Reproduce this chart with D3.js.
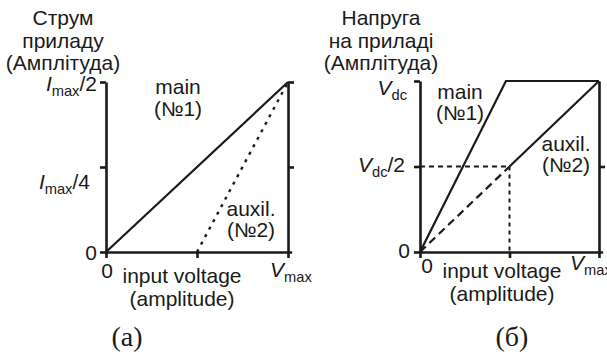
<!DOCTYPE html>
<html>
<head>
<meta charset="utf-8">
<script src="https://cdn.jsdelivr.net/npm/d3@7"></script>
<style>
  html, body { margin: 0; padding: 0; background: #fff; }
  svg { display: block; }
  text { font-family: Arial, "Liberation Sans", sans-serif; fill: #1a1a1a; }
</style>
</head>
<body>
<svg id="chart" width="607" height="358"></svg>
<script>
// Panel (a): current through the device vs input voltage (fractions of V_max, I_max)
const currentMain  = [[0, 0], [1, 0.5]];
const currentAuxil = [[0.5, 0], [1, 0.5]];
const currentTicks = [0, 0.25, 0.5];
const currentTickLabels = [["0", "", ""], ["I", "max", "/4"], ["I", "max", "/2"]];

// Panel (б): voltage across the device vs input voltage (fractions of V_max, V_dc)
const voltageMain       = [[0, 0], [0.48, 1], [1, 1]];
const voltageAuxilLow   = [[0, 0], [0.5, 0.5]];
const voltageAuxilHigh  = [[0.5, 0.5], [1, 1]];
const voltageGuideH     = [[0, 0.5], [0.5, 0.5]];
const voltageGuideV     = [[0.5, 0.5], [0.5, 0]];
const voltageTicks = [0, 0.5, 1];
const voltageTickLabels = [["0", "", ""], ["V", "dc", "/2"], ["V", "dc", ""]];

const inputTicks = [0, 0.5, 1];

const svg = d3.select("#chart");
const INK = "#1a1a1a";
const FONT = 20;
const WIDEN = 1.05;   // slightly wide sans lettering

// text placed at (x, y) and widened horizontally around its anchor
function label(g, x, y, anchor, size) {
  return g.append("g")
    .attr("transform", `translate(${x},${y}) scale(${WIDEN},1)`)
    .append("text").attr("text-anchor", anchor).attr("font-size", size || FONT);
}

function subLabel(g, x, y, parts, anchor) {
  const t = label(g, x, y, anchor);
  if (parts[1] === "") { t.text(parts[0]); return t; }
  t.append("tspan").attr("font-style", "italic").text(parts[0]);
  t.append("tspan").attr("font-size", 14).attr("dy", 5).text(parts[1]);
  if (parts[2]) t.append("tspan").attr("dy", -5).text(parts[2]);
  return t;
}

function styleAxis(g) {
  g.selectAll("path, line").attr("stroke", INK).attr("stroke-width", 2.6);
  g.selectAll("text").remove();
}

function panel(opts) {
  const g = svg.append("g");
  const x = d3.scaleLinear().domain([0, 1]).range(opts.xRange);
  const y = d3.scaleLinear().domain(opts.yDomain).range(opts.yRange);
  const line = d3.line().x(d => x(d[0])).y(d => y(d[1]));

  // left axis
  g.append("g").attr("transform", `translate(${x(0)},0)`)
    .call(d3.axisLeft(y).tickValues(opts.yTicks).tickSize(6).tickSizeOuter(0))
    .call(styleAxis);
  // right frame
  g.append("g").attr("transform", `translate(${x(1)},0)`)
    .call(d3.axisRight(y).tickValues(opts.rightTicks).tickSize(6).tickSizeOuter(0))
    .call(styleAxis);
  // bottom axis, running a little past V_max
  g.append("g").attr("transform", `translate(0,${y(0)})`)
    .call(d3.axisBottom(x.copy().domain([0, 1.02]).range([x(0), x(1.02)]))
      .tickValues(inputTicks).tickSize(6).tickSizeOuter(0))
    .call(styleAxis);

  opts.series.forEach(s => {
    g.append("path").datum(s.data).attr("d", line)
      .attr("fill", "none").attr("stroke", INK)
      .attr("stroke-width", s.width || 2.2)
      .attr("stroke-dasharray", s.dash || null);
  });

  // y tick labels
  opts.yTicks.forEach((v, i) => {
    subLabel(g, x(0) - opts.labelGap[i], y(v) + opts.labelDy[i], opts.yLabels[i], "end");
  });

  // x tick labels
  label(g, x(0) + opts.zeroDx, y(0) + opts.xLabelDy, "middle").text("0");
  subLabel(g, x(1) + opts.vmaxDx, y(0) + opts.vmaxDy, ["V", "max", ""], "start");

  // axis title (x)
  label(g, opts.xTitleX, y(0) + opts.xTitleDy, "middle").text("input voltage");
  label(g, opts.xTitleX, y(0) + opts.xTitleDy + 23, "middle").text("(amplitude)");

  // axis title (y)
  opts.yTitle.forEach((s, i) => {
    label(g, opts.yTitleX, 25 + i * 22.5, "middle").text(s);
  });

  // series annotations
  opts.notes.forEach(n => {
    n.lines.forEach((s, i) => {
      label(g, n.x, n.y + i * n.gap, "middle").text(s);
    });
  });

  // panel caption
  g.append("text").attr("x", opts.capX).attr("y", 346)
    .attr("text-anchor", "middle").attr("font-size", 28)
    .style("font-family", "'Times New Roman', 'Liberation Serif', serif")
    .text(opts.caption);
}

panel({
  xRange: [106, 288], yDomain: [0, 0.5], yRange: [252, 82],
  yTicks: currentTicks, rightTicks: [0.25, 0.5], yLabels: currentTickLabels,
  labelGap: [9, 16, 9], labelDy: [8, 22, 9],
  series: [
    { data: currentMain },
    { data: currentAuxil, dash: "3,5.5", width: 2.4 }
  ],
  zeroDx: 1, xLabelDy: 26, vmaxDx: -18, vmaxDy: 25,
  xTitleX: 182, xTitleDy: 31,
  yTitle: ["Струм", "приладу", "(Амплітуда)"], yTitleX: 63,
  notes: [
    { x: 178, y: 94, gap: 22, lines: ["main", "(№1)"] },
    { x: 251, y: 216, gap: 21, lines: ["auxil.", "(№2)"] }
  ],
  capX: 127, caption: "(a)"
});

panel({
  xRange: [420, 599], yDomain: [0, 1], yRange: [252, 81],
  yTicks: voltageTicks, rightTicks: [0.5], yLabels: voltageTickLabels,
  labelGap: [10, 15, 13], labelDy: [6, 5, 14],
  series: [
    { data: voltageMain },
    { data: voltageAuxilLow, dash: "8,5" },
    { data: voltageAuxilHigh },
    { data: voltageGuideH, dash: "5,4", width: 1.8 },
    { data: voltageGuideV, dash: "4,4", width: 2 }
  ],
  zeroDx: 7, xLabelDy: 21, vmaxDx: -29, vmaxDy: 18,
  xTitleX: 502, xTitleDy: 26,
  yTitle: ["Напруга", "на приладі", "(Амплітуда)"], yTitleX: 381,
  notes: [
    { x: 460, y: 99, gap: 21, lines: ["main", "(№1)"] },
    { x: 566, y: 151, gap: 21, lines: ["auxil.", "(№2)"] }
  ],
  capX: 512, caption: "(б)"
});
</script>
</body>
</html>
